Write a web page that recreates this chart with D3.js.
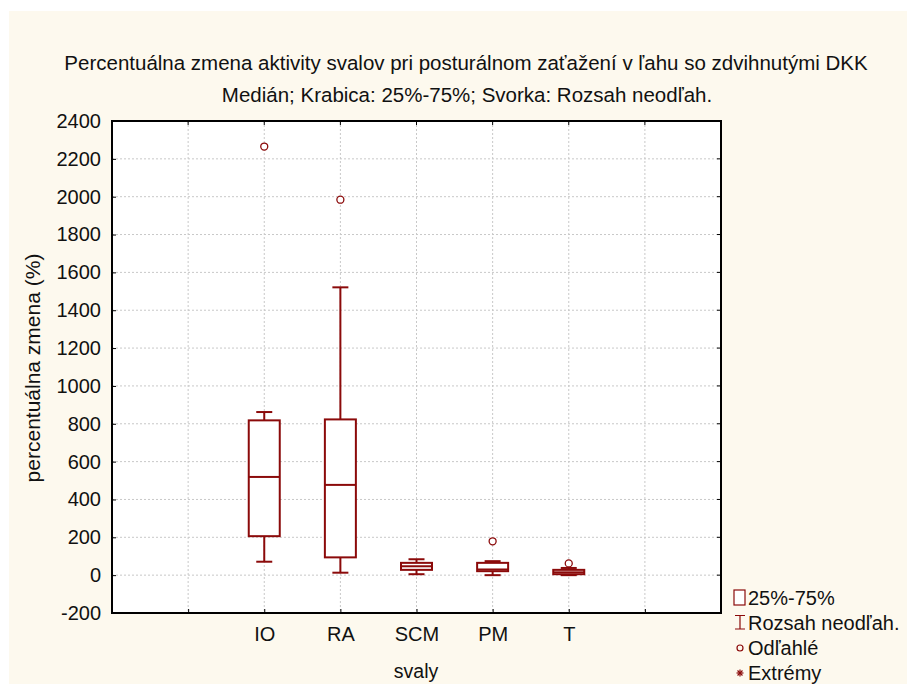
<!DOCTYPE html>
<html>
<head>
<meta charset="utf-8">
<script src="https://cdn.jsdelivr.net/npm/d3@7"></script>
<style>
  body { margin: 0; background: #ffffff; }
  svg { display: block; font-family: Arial, "Liberation Sans", sans-serif; }
</style>
</head>
<body>
<div id="chart"></div>
<script>
// svaly (muscles)
const categories = ["IO", "RA", "SCM", "PM", "T"];
const whiskerLow = [71, 13, 5, 0, 0];
const q1 = [206, 94, 28, 21, 5];
const median = [519, 477, 47, 30, 15];
const q3 = [818, 823, 65, 65, 28];
const whiskerHigh = [862, 1521, 84, 74, 38];
const outliers = [[2265], [1984], [], [179], [62]];
const yTicks = [-200, 0, 200, 400, 600, 800, 1000, 1200, 1400, 1600, 1800, 2000, 2200, 2400];

const width = 907;
const height = 684;
const plotLeft = 112, plotRight = 721, plotTop = 121, plotBottom = 613;
const red = "#8b0a0a";
const ink = "#111";

const svg = d3.select("#chart").append("svg")
  .attr("width", width)
  .attr("height", height);

// cream background with thin white margin top/left
svg.append("rect")
  .attr("x", 9).attr("y", 11)
  .attr("width", width - 9).attr("height", height - 11)
  .attr("fill", "#fdf9ee");

svg.append("rect")
  .attr("x", plotLeft).attr("y", plotTop)
  .attr("width", plotRight - plotLeft).attr("height", plotBottom - plotTop)
  .attr("fill", "#ffffff");

// x positions: 8 slots, categories sit at slots 2..6
const xScale = d3.scaleLinear().domain([0, 8]).range([plotLeft, plotRight]);
const xPos = (i) => xScale(i + 2);

const yScale = d3.scaleLinear().domain([-200, 2400]).range([plotBottom, plotTop]);

// grid
svg.append("g")
  .selectAll("line")
  .data(yTicks.slice(1, -1))
  .enter()
  .append("line")
  .attr("x1", plotLeft).attr("x2", plotRight)
  .attr("y1", (d) => yScale(d)).attr("y2", (d) => yScale(d))
  .attr("stroke", "#c8c8c8")
  .attr("stroke-dasharray", "2,2");

svg.append("g")
  .selectAll("line")
  .data(d3.range(1, 8))
  .enter()
  .append("line")
  .attr("x1", (d) => xScale(d)).attr("x2", (d) => xScale(d))
  .attr("y1", plotTop).attr("y2", plotBottom)
  .attr("stroke", "#c8c8c8")
  .attr("stroke-dasharray", "2,2");

// axes
const yAxis = d3.axisLeft(yScale).tickValues(yTicks).tickSize(-4).tickPadding(11)
  .tickFormat((d) => String(d));
const gy = svg.append("g").attr("transform", `translate(${plotLeft},0)`).call(yAxis);
gy.select(".domain").remove();
gy.attr("font-family", null).attr("font-size", 20);
gy.selectAll("text").attr("fill", ink);
gy.selectAll("line").attr("stroke", "#000");

const xAxis = d3.axisBottom(xScale).tickValues(d3.range(1, 8)).tickSize(-4)
  .tickFormat((d) => categories[d - 2] || "").tickPadding(14);
const gx = svg.append("g").attr("transform", `translate(0,${plotBottom})`).call(xAxis);
gx.select(".domain").remove();
gx.attr("font-family", null).attr("font-size", 20);
gx.selectAll("text").attr("fill", ink);
gx.selectAll("line").attr("stroke", "#000");

// right and top ticks
svg.append("g").selectAll("line").data(yTicks.slice(1, -1)).enter().append("line")
  .attr("x1", plotRight - 4).attr("x2", plotRight)
  .attr("y1", (d) => yScale(d)).attr("y2", (d) => yScale(d))
  .attr("stroke", "#000");
svg.append("g").selectAll("line").data(d3.range(1, 8)).enter().append("line")
  .attr("x1", (d) => xScale(d)).attr("x2", (d) => xScale(d))
  .attr("y1", plotTop).attr("y2", plotTop + 4)
  .attr("stroke", "#000");

// boxes
const boxW = 31, capW = 16;
const g = svg.append("g").attr("stroke", red).attr("stroke-width", 2).attr("fill", "none");
categories.forEach((c, i) => {
  const cx = xPos(i);
  g.append("line").attr("x1", cx).attr("x2", cx)
    .attr("y1", yScale(q3[i])).attr("y2", yScale(whiskerHigh[i]));
  g.append("line").attr("x1", cx).attr("x2", cx)
    .attr("y1", yScale(q1[i])).attr("y2", yScale(whiskerLow[i]));
  g.append("line").attr("x1", cx - capW / 2).attr("x2", cx + capW / 2)
    .attr("y1", yScale(whiskerHigh[i])).attr("y2", yScale(whiskerHigh[i]));
  g.append("line").attr("x1", cx - capW / 2).attr("x2", cx + capW / 2)
    .attr("y1", yScale(whiskerLow[i])).attr("y2", yScale(whiskerLow[i]));
  g.append("rect")
    .attr("x", cx - boxW / 2).attr("y", yScale(q3[i]))
    .attr("width", boxW).attr("height", yScale(q1[i]) - yScale(q3[i]))
    .attr("fill", "#ffffff");
  g.append("line").attr("x1", cx - boxW / 2).attr("x2", cx + boxW / 2)
    .attr("y1", yScale(median[i])).attr("y2", yScale(median[i]));
  outliers[i].forEach((v) => {
    g.append("circle").attr("cx", cx).attr("cy", yScale(v)).attr("r", 3.5)
      .attr("stroke-width", 1.3).attr("fill", "#ffffff");
  });
});

// frame
svg.append("rect")
  .attr("x", plotLeft).attr("y", plotTop)
  .attr("width", plotRight - plotLeft).attr("height", plotBottom - plotTop)
  .attr("fill", "none").attr("stroke", "#000").attr("stroke-width", 2);

// titles
svg.append("text").attr("x", 466).attr("y", 70).attr("text-anchor", "middle")
  .attr("font-size", 20.5).attr("fill", ink)
  .text("Percentuálna zmena aktivity svalov pri posturálnom zaťažení v ľahu so zdvihnutými DKK");
svg.append("text").attr("x", 467).attr("y", 102).attr("text-anchor", "middle")
  .attr("font-size", 20.5).attr("fill", ink)
  .text("Medián; Krabica: 25%-75%; Svorka: Rozsah neodľah.");
svg.append("text").attr("x", 416).attr("y", 678).attr("text-anchor", "middle")
  .attr("font-size", 19.5).attr("fill", ink).text("svaly");
svg.append("text")
  .attr("transform", "translate(40,368) rotate(-90)")
  .attr("text-anchor", "middle").attr("font-size", 21).attr("fill", ink)
  .text("percentuálna zmena (%)");

// legend
const legendItems = ["25%-75%", "Rozsah neodľah.", "Odľahlé", "Extrémy"];
const leg = svg.append("g");
leg.selectAll("text").data(legendItems).enter().append("text")
  .attr("x", 748).attr("y", (d, i) => 605 + i * 25)
  .attr("font-size", 20).attr("fill", ink).text((d) => d);
leg.append("rect").attr("x", 734).attr("y", 590).attr("width", 11).attr("height", 15)
  .attr("fill", "#fff").attr("stroke", red).attr("stroke-width", 1.2);
leg.append("path").attr("d", "M735,615.5H745M740,615.5V629M735,629H745")
  .attr("stroke", red).attr("stroke-width", 1.2).attr("fill", "none");
leg.append("circle").attr("cx", 740).attr("cy", 648).attr("r", 3)
  .attr("fill", "none").attr("stroke", red).attr("stroke-width", 1.2);
const star = leg.append("g").attr("stroke", red).attr("stroke-width", 1.2)
  .attr("transform", "translate(740,673)");
[0, 45, 90, 135].forEach((a) => {
  star.append("line").attr("x1", -3.5).attr("x2", 3.5).attr("y1", 0).attr("y2", 0)
    .attr("transform", `rotate(${a})`);
});
</script>
</body>
</html>
